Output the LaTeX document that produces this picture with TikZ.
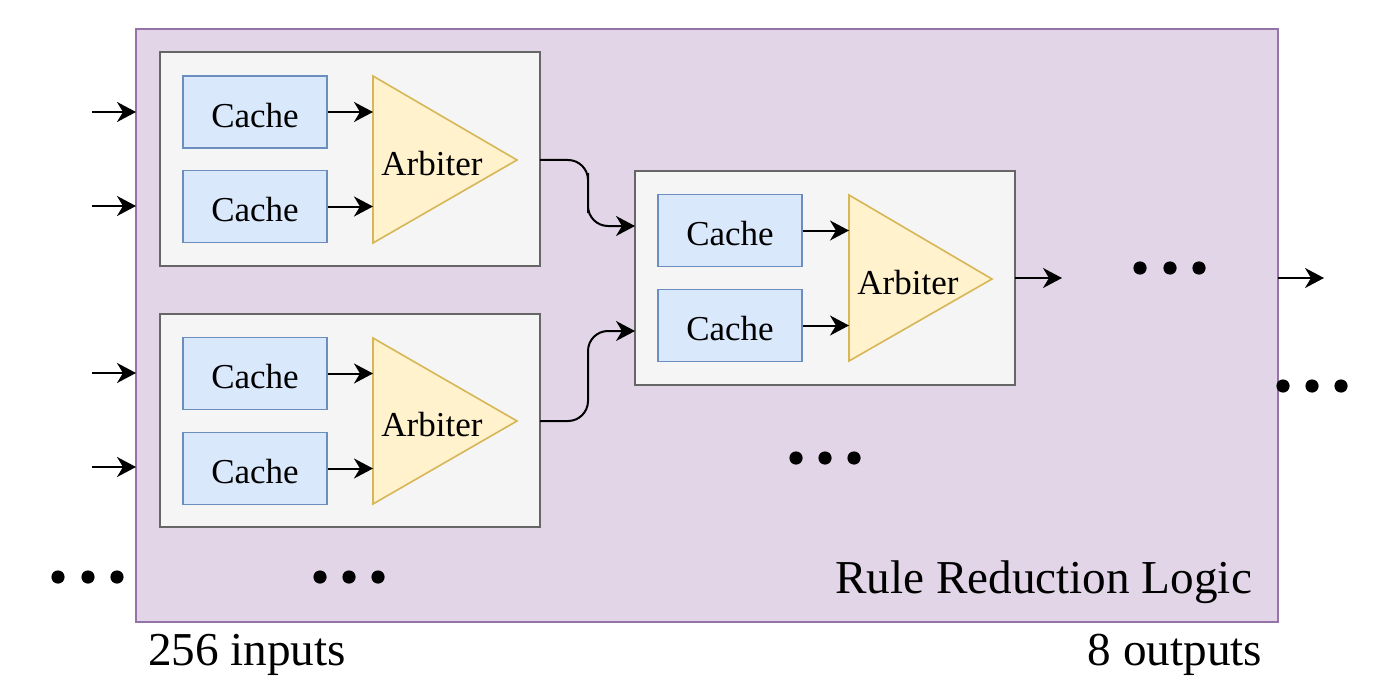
\documentclass[tikz,border=0pt]{standalone}
\usepackage{fontspec}
\setmainfont{Liberation Serif}
\usetikzlibrary{arrows.meta}
\definecolor{outerfill}{HTML}{E1D5E7}
\definecolor{outerline}{HTML}{9673A6}
\definecolor{grpfill}{HTML}{F5F5F5}
\definecolor{grpline}{HTML}{666666}
\definecolor{cachefill}{HTML}{DAE8FC}
\definecolor{cacheline}{HTML}{6C8EBF}
\definecolor{arbfill}{HTML}{FFF2CC}
\definecolor{arbline}{HTML}{D6B656}
\tikzset{
  outerbox/.style={draw=outerline, fill=outerfill, line width=1pt},
  grpbox/.style={draw=grpline, fill=grpfill, line width=1pt},
  cachebox/.style={draw=cacheline, fill=cachefill, line width=0.8pt, minimum width=72pt, minimum height=36pt, inner sep=0pt, text height=15.2pt, text depth=0pt, font=\fontsize{17.5}{20}\selectfont},
  arbtri/.style={draw=arbline, fill=arbfill, line width=0.8pt},
  arbtext/.style={inner sep=0pt, font=\fontsize{17.5}{20}\selectfont},
  bigtext/.style={inner sep=0pt, font=\fontsize{23.6}{26}\selectfont},
  conn/.style={line width=1pt, -{Stealth[length=9.5pt,width=10pt,inset=3pt]}},
  dotmark/.style={fill=black},
}
\begin{document}
\begin{tikzpicture}[x=0.5pt,y=-0.5pt]
\useasboundingbox (0,0) rectangle (1376,690);
% outer box
\draw[outerbox] (136,29) rectangle (1278,622);
\node[bigtext] (rrl) at (1043.5,582) {Rule Reduction Logic};
% groups
\draw[grpbox] (160,52) rectangle (540,266);
\draw[grpbox] (160,314) rectangle (540,527);
\draw[grpbox] (635,171) rectangle (1015,385);
\coordinate (g1out) at (540,160);
\coordinate (g2out) at (540,421);
\coordinate (g3in1) at (635,226);
\coordinate (g3in2) at (635,331);
\coordinate (g3out) at (1015,278);
% caches
\node[cachebox] (c1a) at (255,112) {Cache};
\node[cachebox] (c1b) at (255,206.5) {Cache};
\node[cachebox] (c2a) at (255,373.5) {Cache};
\node[cachebox] (c2b) at (255,468.5) {Cache};
\node[cachebox] (c3a) at (730,230.5) {Cache};
\node[cachebox] (c3b) at (730,325.5) {Cache};
% arbiters
\draw[arbtri] (373,76) -- (517,160) -- (373,243) -- cycle;
\draw[arbtri] (373,338) -- (517,421) -- (373,504) -- cycle;
\draw[arbtri] (849,195) -- (992,279) -- (849,361) -- cycle;
\coordinate (a1w) at (373,160);
\coordinate (a2w) at (373,421);
\coordinate (a3w) at (849,279);
\node[arbtext] (a1) at (432,164) {Arbiter};
\node[arbtext] (a2) at (432,425) {Arbiter};
\node[arbtext] (a3) at (908,283) {Arbiter};
% cache -> arbiter
\draw[conn] (c1a.east) -- (c1a.east -| a1w);
\draw[conn] (c1b.east) -- (c1b.east -| a1w);
\draw[conn] (c2a.east) -- (c2a.east -| a2w);
\draw[conn] (c2b.east) -- (c2b.east -| a2w);
\draw[conn] (c3a.east) -- (c3a.east -| a3w);
\draw[conn] (c3b.east) -- (c3b.east -| a3w);
% inputs
\coordinate (i1) at (92,112);
\coordinate (i2) at (92,206);
\coordinate (i3) at (92,373);
\coordinate (i4) at (92,467);
\coordinate (o1) at (136,112);
\coordinate (o2) at (136,206);
\coordinate (o3) at (136,373);
\coordinate (o4) at (136,467);
\draw[conn] (i1) -- (o1);
\draw[conn] (i2) -- (o2);
\draw[conn] (i3) -- (o3);
\draw[conn] (i4) -- (o4);
% group outputs to group 3
\draw[conn, rounded corners=10pt] (g1out) -| (588,193) |- (g3in1);
\draw[conn, rounded corners=10pt] (g2out) -| (588,380) |- (g3in2);
\coordinate (g3end) at (1062,278);
\draw[conn] (g3out) -- (g3end);
% final output
\coordinate (fo1) at (1278,278);
\coordinate (fo2) at (1324,278);
\draw[conn] (fo1) -- (fo2);
% dots
\foreach \x/\y in {1140/268,1170/268,1199/268, 1283/386,1312/386,1341/386, 796/458,825/458,854/458, 58/577,88/577,117/577, 320/577,349/577,378/577}
  \fill[dotmark] (\x,\y) circle (3.3pt);
% labels
\node[bigtext] (inl) at (247,655) {256 inputs};
\node[bigtext] (outl) at (1175,655) {8 outputs};
\end{tikzpicture}
\end{document}
